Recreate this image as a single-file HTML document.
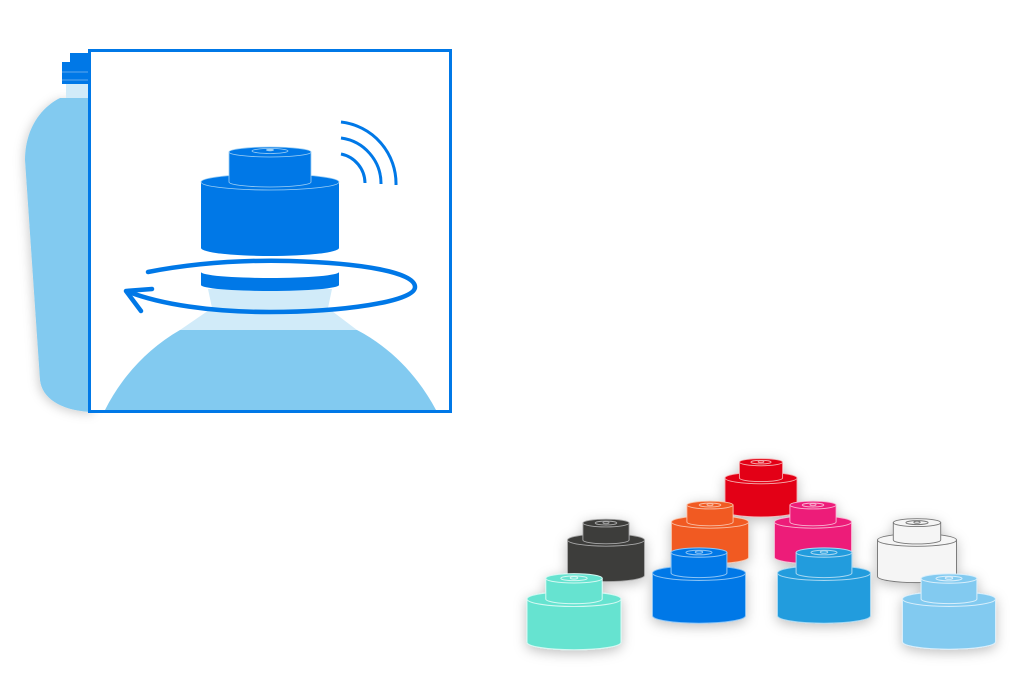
<!DOCTYPE html>
<html><head><meta charset="utf-8"><style>
html,body{margin:0;padding:0;background:#fff;width:1020px;height:700px;overflow:hidden}
svg{display:block}
</style></head><body>
<svg width="1020" height="700" viewBox="0 0 1020 700" xmlns="http://www.w3.org/2000/svg">
<defs>
<filter id="sh" x="-30%" y="-30%" width="160%" height="160%"><feDropShadow dx="0" dy="3" stdDeviation="6" flood-color="#000" flood-opacity="0.25"/></filter>
<filter id="sh2" x="-30%" y="-30%" width="160%" height="160%"><feDropShadow dx="-2" dy="2" stdDeviation="5" flood-color="#000" flood-opacity="0.18"/></filter>
<symbol id="cap" overflow="visible">
<path d="M-50,0 L-50,46 A50,8 0 0 0 50,46 L50,0 Z" fill="currentColor"/>
<ellipse cx="0" cy="0" rx="50" ry="8" fill="currentColor"/>
<path d="M-30,-22 L-30,0 A30,5 0 0 0 30,0 L30,-22 Z" fill="currentColor"/>
<ellipse cx="0" cy="-22" rx="30" ry="5" fill="currentColor"/>
<ellipse cx="0" cy="-22" rx="14" ry="2.5" fill="none"/>
<ellipse cx="0" cy="-22.5" rx="4" ry="1.3" fill="none"/>
</symbol>
</defs>

<g filter="url(#sh2)">
<path d="M60,98 L95,98 L95,412 L90,412 C60,410 42,398 40,380 L25,160 C25,130 40,108 60,98 Z" fill="#82CAF0"/>
</g>
<rect x="66" y="84" width="26" height="14" fill="#d1ebf9"/>
<rect x="62" y="62" width="30" height="22" fill="#0078E7"/>
<rect x="70" y="53" width="22" height="10" fill="#0078E7"/>
<line x1="62" y1="72" x2="92" y2="72" stroke="#7fb8f0" stroke-width="0.7"/>
<line x1="62" y1="80" x2="92" y2="80" stroke="#7fb8f0" stroke-width="0.7"/>

<rect x="89.5" y="50.5" width="361" height="361" fill="#fff" stroke="#0078E7" stroke-width="3"/>
<path d="M208,289 L332,289 L328,308 L357,330 L180,330 L212,308 Z" fill="#d1ebf9"/>
<path d="M180,330 L357,330 C395,350 420,380 436,410 L105,410 C120,380 145,350 180,330 Z" fill="#82CAF0"/>

<path d="M148,272 C200,262 250,260 290,261 C360,263 415,272 415,287 C415,302 340,312 270,312 C210,312 160,304 129,292" fill="none" stroke="#0078E7" stroke-width="4.5" stroke-linecap="round"/>
<path d="M152,289 L126,291 L141,311" fill="none" stroke="#0078E7" stroke-width="4.5" stroke-linecap="round" stroke-linejoin="round"/>
<path d="M201,272 A69,6 0 0 0 339,272 L339,285 A69,6 0 0 1 201,285 Z" fill="#0078E7"/>

<path d="M201,182 L201,248 A69,8 0 0 0 339,248 L339,182 Z" fill="#0078E7"/>
<ellipse cx="270" cy="182" rx="69" ry="8" fill="#0078E7" stroke="#9fd0f5" stroke-width="0.8"/>
<path d="M229,152 L229,182 A41,5 0 0 0 311,182 L311,152 Z" fill="#0078E7" stroke="#9fd0f5" stroke-width="0.8"/>
<ellipse cx="270" cy="152" rx="41" ry="5" fill="#0078E7" stroke="#9fd0f5" stroke-width="0.8"/>
<ellipse cx="270" cy="151" rx="18" ry="2.5" fill="none" stroke="#9fd0f5" stroke-width="0.8"/>
<ellipse cx="270" cy="150" rx="4" ry="1.3" fill="#9fd0f5"/>

<g fill="none" stroke="#0078E7" stroke-width="3">
<path d="M341,122 A62,62 0 0 1 396,185"/>
<path d="M341,138 A46,46 0 0 1 381,184"/>
<path d="M341,154 A30,30 0 0 1 365,183"/>
</g>

<g filter="url(#sh)">
<use href="#cap" transform="translate(761,478) scale(.72)" color="#E30613" stroke="#f5b0b4" stroke-width="1.2"/>
<use href="#cap" transform="translate(710,522) scale(.77)" color="#F15A24" stroke="#f9c0a6" stroke-width="1.2"/>
<use href="#cap" transform="translate(813,522) scale(.77)" color="#ED1E79" stroke="#f8b4d2" stroke-width="1.2"/>
<use href="#cap" transform="translate(606,540) scale(.77)" color="#3C3C3B" stroke="#aaaaaa" stroke-width="1.2"/>
<use href="#cap" transform="translate(917,540) scale(.79)" color="#F5F5F5" stroke="#777777" stroke-width="1.2"/>
<use href="#cap" transform="translate(699,573) scale(.93)" color="#0078E7" stroke="#8cc4f5" stroke-width="1.1"/>
<use href="#cap" transform="translate(824,573) scale(.93)" color="#229CDD" stroke="#a8d8f2" stroke-width="1.1"/>
<use href="#cap" transform="translate(574,599) scale(.94)" color="#66E3D0" stroke="#d4f8f2" stroke-width="1.1"/>
<use href="#cap" transform="translate(949,599) scale(.93)" color="#82CAF0" stroke="#d8eefb" stroke-width="1.1"/>
</g>
</svg>
</body></html>
